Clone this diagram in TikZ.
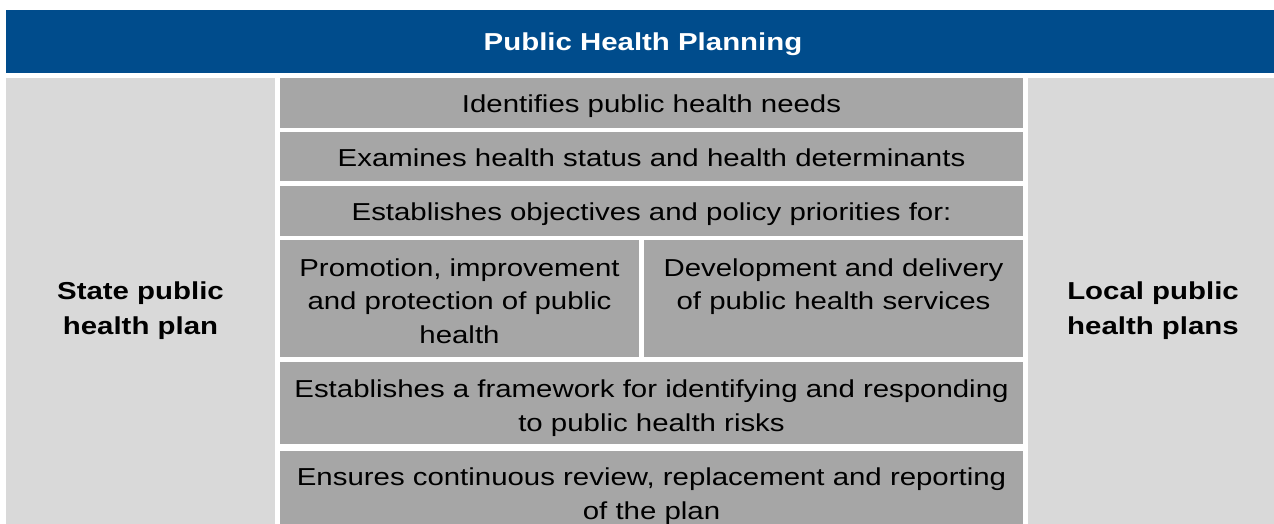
\documentclass[tikz,border=0pt]{standalone}
\usepackage{fontspec}
\setmainfont[FakeStretch=1.2]{Liberation Sans}
\definecolor{hdrblue}{RGB}{0,76,140}
\definecolor{lightgray}{RGB}{217,217,217}
\definecolor{midgray}{RGB}{166,166,166}
\begin{document}
\begin{tikzpicture}[x=1pt,y=-1pt,
  sidebox/.style={fill=lightgray},
  cellbox/.style={fill=midgray},
  bodytxt/.style={font=\fontsize{24.5}{33.5}\selectfont, align=center, inner sep=0pt, text=black},
  sidetxt/.style={font=\fontsize{24.5}{35}\selectfont\bfseries, align=center, inner sep=0pt, text=black},
  titletxt/.style={font=\fontsize{24.5}{30}\selectfont\bfseries, inner sep=0pt, text=white}]
\useasboundingbox (0,0) rectangle (1274,524);
\fill[white] (0,0) rectangle (1274,524);
% header
\fill[hdrblue] (6,10) rectangle (1274,73);
\node[titletxt, anchor=base] (title) at (643,50.5) {Public Health Planning};
% side boxes
\fill[sidebox] (6,78) rectangle (275,524);
\fill[sidebox] (1028,78) rectangle (1274,524);
\node[sidetxt, anchor=north] (state) at (140.5,282) {State public\\health plan};
\node[sidetxt, anchor=north] (local) at (1153,282) {Local public\\health plans};
% middle cells
\fill[cellbox] (280,78) rectangle (1023,128);
\fill[cellbox] (280,132) rectangle (1023,181);
\fill[cellbox] (280,186) rectangle (1023,236);
\fill[cellbox] (280,240) rectangle (639,357);
\fill[cellbox] (644,240) rectangle (1023,357);
\fill[cellbox] (280,362) rectangle (1023,444);
\fill[cellbox] (280,451) rectangle (1023,524);
% texts
\node[bodytxt, anchor=base] (needs) at (651.5,112.5) {Identifies public health needs};
\node[bodytxt, anchor=base] (status) at (651.5,166) {Examines health status and health determinants};
\node[bodytxt, anchor=base] (objectives) at (651.5,220.5) {Establishes objectives and policy priorities for:};
\node[bodytxt, anchor=north] (promotion) at (459.5,258.5) {Promotion, improvement\\and protection of public\\health};
\node[bodytxt, anchor=north] (delivery) at (833.5,258.5) {Development and delivery\\of public health services};
\node[bodytxt, anchor=north] (framework) at (651.5,380) {Establishes a framework for identifying and responding\\to public health risks};
\node[bodytxt, anchor=north] (review) at (651.5,468) {Ensures continuous review, replacement and reporting\\of the plan};
\end{tikzpicture}
\end{document}
